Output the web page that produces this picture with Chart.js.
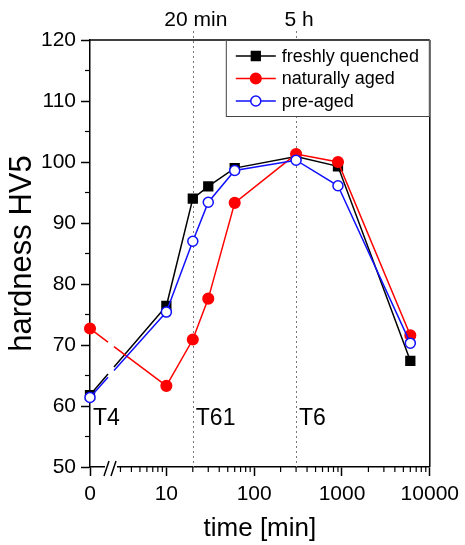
<!DOCTYPE html>
<html>
<head>
<meta charset="utf-8">
<script src="https://cdn.jsdelivr.net/npm/chart.js@4"></script>
<style>
    html, body { margin: 0; padding: 0; background: #fff; }
    canvas { display: block; }
</style>
</head>
<body>
<canvas id="hardness-chart" width="465" height="545"></canvas>
<script>
// ageing time in minutes (0 = as quenched)
const times = [0, 10, 20, 30, 60, 300, 900, 6000];

// hardness HV5 per series
const freshlyQuenched = [61.8, 76.4, 94.0, 96.0, 99.0, 100.9, 99.3, 67.4];
const naturallyAged   = [72.7, 63.3, 70.9, 77.6, 93.3, 101.3, 100.0, 71.6];
const preAged         = [61.4, 75.4, 87.0, 93.4, 98.6, 100.3, 96.1, 70.3];

const seriesNames = ['freshly quenched', 'naturally aged', 'pre-aged'];

// axis ticks
const xMajorTicks = [0, 10, 100, 1000, 10000];
const xMinorTicks = [3, 4, 5, 6, 7, 8, 9,
                     20, 30, 40, 50, 60, 70, 80, 90,
                     200, 300, 400, 500, 600, 700, 800, 900,
                     2000, 3000, 4000, 5000, 6000, 7000, 8000, 9000];
const yMin = 50, yMax = 120;

// reference lines and temper labels
const refTimes = [20, 300];
const refLabels = ['20 min', '5 h'];
const phaseTimes = [0, 20, 300];
const phaseLabels = ['T4', 'T61', 'T6'];

// "0" sits at the left end of the broken log axis
const ZERO_POS = 1.35;
const BREAK_FROM = 18, BREAK_TO = 24; // px from left edge, gap in the lines

const FONT = "'Liberation Sans', Arial, sans-serif";
Chart.defaults.font.family = FONT;
Chart.defaults.color = '#000';

function toX(t) {
    return t === 0 ? ZERO_POS : t;
}

function points(values) {
    return times.map((t, i) => ({ x: toX(t), y: values[i] }));
}

// leave a gap in the first segment where the axis is broken
function breakDash(ctx) {
    if (ctx.p0DataIndex !== 0) return undefined;
    const area = ctx.chart.chartArea;
    const x0 = ctx.p0.x, y0 = ctx.p0.y, x1 = ctx.p1.x, y1 = ctx.p1.y;
    const len = Math.hypot(x1 - x0, y1 - y0);
    const f0 = (area.left + BREAK_FROM - x0) / (x1 - x0);
    const f1 = (area.left + BREAK_TO - x0) / (x1 - x0);
    return [len * f0, len * (f1 - f0), len * 2];
}

const styles = [
    { color: '#000000', fill: '#000000', pointStyle: 'rect', radius: 6.2 },
    { color: '#ff0000', fill: '#ff0000', pointStyle: 'circle', radius: 5.3 },
    { color: '#1010ff', fill: '#ffffff', pointStyle: 'circle', radius: 5 }
];

function makeDataset(i, values) {
    const s = styles[i];
    return {
        label: seriesNames[i],
        data: points(values),
        borderColor: s.color,
        backgroundColor: s.fill,
        borderWidth: 1.5,
        pointStyle: s.pointStyle,
        pointRadius: s.radius,
        pointBackgroundColor: s.fill,
        pointBorderColor: s.color,
        pointBorderWidth: 1.5,
        tension: 0,
        clip: false,
        order: 3 - i,
        segment: { borderDash: breakDash }
    };
}

function line(ctx, x0, y0, x1, y1) {
    ctx.beginPath();
    ctx.moveTo(x0, y0);
    ctx.lineTo(x1, y1);
    ctx.stroke();
}

const decorations = {
    id: 'decorations',
    beforeDatasetsDraw(chart) {
        const ctx = chart.ctx;
        const area = chart.chartArea;
        const xs = chart.scales.x;
        ctx.save();
        ctx.strokeStyle = '#777';
        ctx.lineWidth = 1;
        ctx.setLineDash([2, 3]);
        refTimes.forEach(t => {
            const x = Math.round(xs.getPixelForValue(t)) + 0.5;
            line(ctx, x, area.top - 9, x, area.bottom);
        });
        ctx.restore();
    },
    afterDraw(chart) {
        const ctx = chart.ctx;
        const area = chart.chartArea;
        const xs = chart.scales.x;
        const ys = chart.scales.y;
        ctx.save();
        ctx.strokeStyle = '#000';
        ctx.lineWidth = 1.5;

        // top and right frame
        line(ctx, area.left, area.top, area.right, area.top);
        line(ctx, area.right, area.top, area.right, area.bottom);

        // minor ticks
        ctx.lineWidth = 1.2;
        ys.ticks.forEach(t => {
            if (t.value % 10 !== 0) {
                const y = ys.getPixelForValue(t.value);
                line(ctx, area.left - 5, y, area.left, y);
            }
        });
        xs.ticks.forEach(t => {
            if (!t.major) {
                const x = xs.getPixelForValue(t.value);
                line(ctx, x, area.bottom, x, area.bottom + 5);
            }
        });

        // axis break
        const bx = area.left + 15;
        ctx.fillStyle = '#fff';
        ctx.fillRect(bx, area.bottom - 3, 12, 6);
        ctx.lineWidth = 1.5;
        line(ctx, bx - 1, area.bottom + 9, bx + 4, area.bottom - 6);
        line(ctx, bx + 6, area.bottom + 9, bx + 11, area.bottom - 6);

        // labels on top of the reference lines
        ctx.fillStyle = '#000';
        ctx.font = '21px ' + FONT;
        ctx.textAlign = 'center';
        ctx.textBaseline = 'middle';
        refTimes.forEach((t, i) => {
            ctx.fillText(refLabels[i], xs.getPixelForValue(t) + 3, area.top - 20);
        });

        // temper labels
        ctx.font = '23px ' + FONT;
        ctx.textAlign = 'left';
        phaseTimes.forEach((t, i) => {
            ctx.fillText(phaseLabels[i], xs.getPixelForValue(toX(t)) + 3, ys.getPixelForValue(58.0));
        });

        // legend box
        const lw = 204, lh = 77;
        const lx = area.right - lw, ly = area.top;
        ctx.fillStyle = '#fff';
        ctx.fillRect(lx, ly, lw, lh);
        ctx.strokeStyle = '#444';
        ctx.lineWidth = 1;
        ctx.strokeRect(lx + 0.5, ly + 0.5, lw - 1, lh - 1);
        ctx.font = '18px ' + FONT;
        seriesNames.forEach((name, i) => {
            const s = styles[i];
            const y = ly + 16 + i * 22.5;
            ctx.strokeStyle = s.color;
            ctx.lineWidth = 1.5;
            line(ctx, lx + 10, y, lx + 50, y);
            ctx.fillStyle = s.fill;
            ctx.strokeStyle = s.color;
            Chart.helpers.drawPoint(ctx, {
                pointStyle: s.pointStyle, radius: s.radius, borderWidth: 1.5, rotation: 0
            }, lx + 30, y);
            ctx.fillStyle = '#000';
            ctx.fillText(name, lx + 56, y + 1);
        });
        ctx.restore();
    }
};

new Chart(document.getElementById('hardness-chart').getContext('2d'), {
    type: 'line',
    data: {
        datasets: [
            makeDataset(0, freshlyQuenched),
            makeDataset(1, naturallyAged),
            makeDataset(2, preAged)
        ]
    },
    options: {
        responsive: false,
        devicePixelRatio: 1,
        animation: false,
        layout: { padding: { top: 40, right: 33, left: 0, bottom: 0 } },
        plugins: {
            legend: { display: false },
            tooltip: { enabled: false }
        },
        scales: {
            x: {
                type: 'logarithmic',
                min: ZERO_POS,
                max: 10000,
                afterBuildTicks: scale => {
                    const major = xMajorTicks.map(v => ({ value: toX(v), major: true }));
                    const minor = xMinorTicks.map(v => ({ value: v, major: false }));
                    scale.ticks = major.concat(minor).sort((a, b) => a.value - b.value);
                },
                afterFit: scale => { scale.height = 78; },
                ticks: {
                    autoSkip: false,
                    maxRotation: 0,
                    padding: 6,
                    major: { enabled: false },
                    font: { size: 21 },
                    callback: function(value) {
                        if (value === ZERO_POS) return '0';
                        return xMajorTicks.includes(value) ? String(value) : '';
                    }
                },
                grid: {
                    drawOnChartArea: false,
                    tickLength: 9,
                    tickWidth: 1.5,
                    tickColor: c => (c.tick && xMajorTicks.map(toX).includes(c.tick.value)) ? '#000' : 'rgba(0,0,0,0)'
                },
                border: { color: '#000', width: 1.5 },
                title: {
                    display: true,
                    text: 'time [min]',
                    font: { size: 26 },
                    padding: { top: 0, bottom: 1 }
                }
            },
            y: {
                type: 'linear',
                min: yMin,
                max: yMax,
                afterFit: scale => { scale.width = 90; },
                ticks: {
                    stepSize: 5,
                    autoSkip: false,
                    padding: 5,
                    font: { size: 21 },
                    callback: v => (v % 10 === 0 ? String(v) : '')
                },
                grid: {
                    drawOnChartArea: false,
                    tickLength: 9,
                    tickWidth: 1.5,
                    tickColor: c => (c.tick && c.tick.value % 10 === 0) ? '#000' : 'rgba(0,0,0,0)'
                },
                border: { color: '#000', width: 1.5 },
                title: {
                    display: true,
                    text: 'hardness HV5',
                    font: { size: 31 },
                    padding: { top: 4, bottom: 0 }
                }
            }
        }
    },
    plugins: [decorations]
});
</script>
</body>
</html>
